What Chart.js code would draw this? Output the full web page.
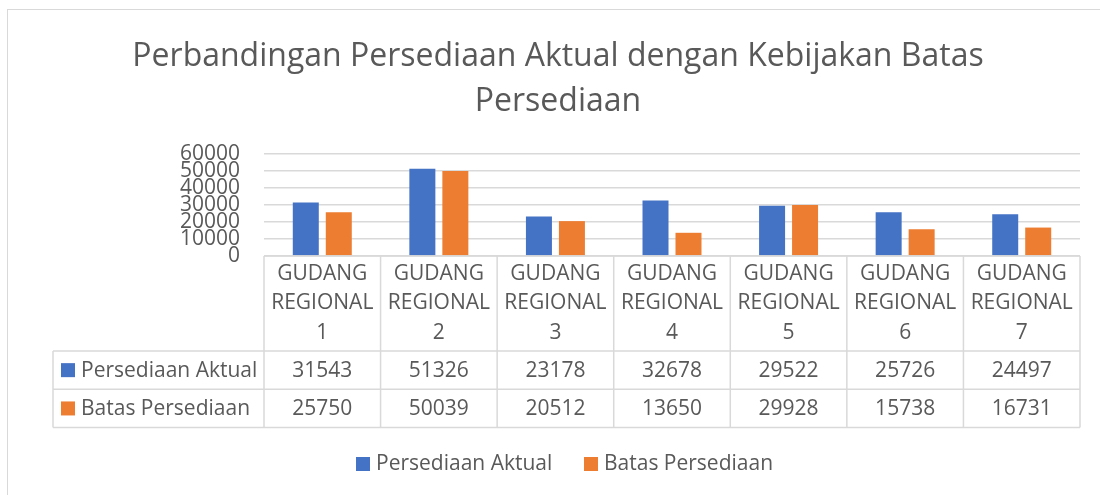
<!DOCTYPE html>
<html>
<head>
<meta charset="utf-8">
<script src="https://cdn.jsdelivr.net/npm/chart.js@4.4.1/dist/chart.umd.min.js"></script>
<style>
  html, body { margin: 0; padding: 0; background: #ffffff; }
  body { width: 1100px; height: 495px; overflow: hidden; position: relative; }
  #frame { position: absolute; left: 7px; top: 9px; width: 1200px; height: 600px; border: 1.5px solid #d9d9d9; box-sizing: border-box; }
  #wrap { position: absolute; left: 0; top: 0; width: 1100px; height: 495px; }
</style>
</head>
<body>
<div id="frame"></div>
<div id="wrap"><canvas id="c" width="1100" height="495"></canvas></div>
<script>
const titleLines = ["Perbandingan Persediaan Aktual dengan Kebijakan Batas", "Persediaan"];
const categories = [["GUDANG", "REGIONAL", "1"], ["GUDANG", "REGIONAL", "2"], ["GUDANG", "REGIONAL", "3"], ["GUDANG", "REGIONAL", "4"], ["GUDANG", "REGIONAL", "5"], ["GUDANG", "REGIONAL", "6"], ["GUDANG", "REGIONAL", "7"]];
const seriesNames = ["Persediaan Aktual", "Batas Persediaan"];
const persediaanAktual = [31543, 51326, 23178, 32678, 29522, 25726, 24497];
const batasPersediaan = [25750, 50039, 20512, 13650, 29928, 15738, 16731];
const yTicks = [0, 10000, 20000, 30000, 40000, 50000, 60000];
const yTickLabels = ["0", "10000", "20000", "30000", "40000", "50000", "60000"];
const seriesColors = ["#4472C4", "#ED7D31"];

const FONT = "'Open Sans', 'Liberation Sans', sans-serif";
const TEXT = "#595959";
const GRID = "#d9d9d9";

const tablePlugin = {
  id: 'excelTable',
  afterDraw(chart) {
    const ctx = chart.ctx;
    const area = chart.chartArea;
    const xs = chart.scales.x;
    const n = categories.length;
    const step = (area.right - area.left) / n;
    const top = area.bottom;
    const headerBottom = top + 95;
    const rowH = 38.3;
    const tableLeft = 53;
    ctx.save();
    // title
    ctx.fillStyle = TEXT;
    ctx.font = "32px " + FONT;
    ctx.textAlign = 'center';
    ctx.textBaseline = 'alphabetic';
    ctx.fillText(titleLines[0], 558, 66);
    ctx.fillText(titleLines[1], 558, 111);

    // grid lines of table
    ctx.strokeStyle = GRID;
    ctx.lineWidth = 1.5;
    ctx.beginPath();
    for (let i = 0; i <= n; i++) {
      const x = area.left + i * step;
      ctx.moveTo(x, top); ctx.lineTo(x, headerBottom + 2 * rowH);
    }
    ctx.moveTo(area.left, top); ctx.lineTo(area.right, top);
    for (let r = 0; r <= 2; r++) {
      const y = headerBottom + r * rowH;
      ctx.moveTo(tableLeft, y); ctx.lineTo(area.right, y);
    }
    ctx.moveTo(tableLeft, headerBottom); ctx.lineTo(tableLeft, headerBottom + 2 * rowH);
    ctx.stroke();

    // header
    ctx.fillStyle = TEXT;
    ctx.font = "21px " + FONT;
    ctx.textAlign = 'center';
    ctx.textBaseline = 'middle';
    for (let i = 0; i < n; i++) {
      const cx = xs.getPixelForValue(i);
      categories[i].forEach((ln, k) => ctx.fillText(ln, cx, top + 18 + k * 29.3));
    }
    // rows
    const rows = [persediaanAktual, batasPersediaan];
    rows.forEach((vals, r) => {
      const cy = headerBottom + r * rowH + rowH / 2;
      ctx.fillStyle = seriesColors[r];
      ctx.fillRect(61, cy - 7, 14, 14);
      ctx.fillStyle = TEXT;
      ctx.textAlign = 'left';
      ctx.fillText(seriesNames[r], 81, cy + 1);
      ctx.textAlign = 'center';
      vals.forEach((v, i) => ctx.fillText(String(v), xs.getPixelForValue(i), cy + 1));
    });

    // legend
    const legendX = [356, 584];
    seriesNames.forEach((name, r) => {
      ctx.fillStyle = seriesColors[r];
      ctx.fillRect(legendX[r], 457, 14, 14);
      ctx.fillStyle = TEXT;
      ctx.textAlign = 'left';
      ctx.fillText(name, legendX[r] + 20, 464);
    });
    ctx.restore();
  }
};

new Chart(document.getElementById('c'), {
  type: 'bar',
  data: {
    labels: categories.map(c => c.join(' ')),
    datasets: [
      { label: seriesNames[0], data: persediaanAktual, backgroundColor: seriesColors[0], categoryPercentage: 0.566, barPercentage: 0.788 },
      { label: seriesNames[1], data: batasPersediaan, backgroundColor: seriesColors[1], categoryPercentage: 0.566, barPercentage: 0.788 }
    ]
  },
  options: {
    responsive: false,
    animation: false,
    devicePixelRatio: 1,
    layout: { padding: { top: 154, left: 0, right: 20, bottom: 239 } },
    plugins: { legend: { display: false }, title: { display: false }, tooltip: { enabled: false } },
    scales: {
      x: {
        ticks: { display: false },
        grid: { display: false, drawTicks: false },
        border: { display: false },
        afterFit(s) { s.height = 0; }
      },
      y: {
        min: 0, max: 60000,
        afterBuildTicks(s) { s.ticks = yTicks.map(v => ({ value: v })); },
        afterFit(s) { s.width = 264; },
        ticks: {
          color: TEXT, font: { family: FONT, size: 21, lineHeight: 1 }, padding: 24,
          autoSkip: false, sampleSize: 100,
          callback: (v) => yTickLabels[yTicks.indexOf(v)]
        },
        grid: { color: GRID, lineWidth: 1.5, drawTicks: false },
        border: { display: false }
      }
    }
  },
  plugins: [tablePlugin]
});
</script>
</body>
</html>
